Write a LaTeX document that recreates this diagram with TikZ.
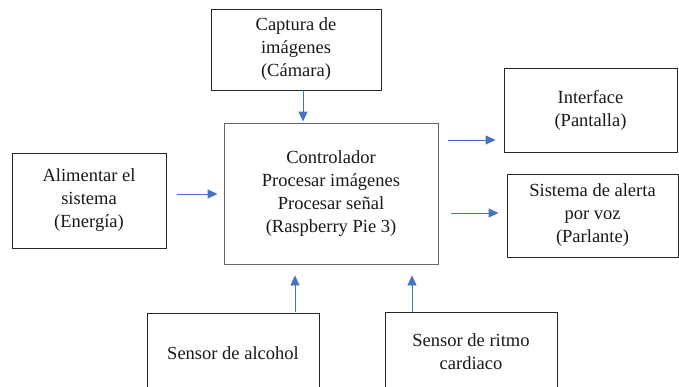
\documentclass[tikz,border=0pt]{standalone}
\usepackage{fontspec}
\setmainfont{Liberation Serif}
\usetikzlibrary{arrows.meta,calc}
\definecolor{arrblue}{HTML}{4472C4}
\tikzset{
  box/.style={draw=black!85, line width=0.9pt, fill=white, align=center, inner sep=0pt,
    font=\fontsize{18.5}{23}\selectfont, text=black!90},
  arr/.style={draw=arrblue, line width=0.9pt, -{Triangle[length=10pt,width=9pt]}}
}
\begin{document}
\begin{tikzpicture}[x=1pt,y=-1pt]
\useasboundingbox (0,0) rectangle (679,386);
\node[box, minimum width=170pt, minimum height=81pt] (cap) at (296,49.5) {Captura de\\imágenes\\(Cámara)};
\node[box, draw=black!60, minimum width=214pt, minimum height=141pt] (ctrl) at (331,193.5) {Controlador\\Procesar imágenes\\Procesar señal\\(Raspberry Pie 3)};
\node[box, minimum width=173pt, minimum height=84pt] (intf) at (590.5,110) {Interface\\(Pantalla)};
\node[box, minimum width=171pt, minimum height=83pt] (alert) at (592.5,215.5) {Sistema de alerta\\por voz\\(Parlante)};
\node[box, minimum width=154pt, minimum height=95pt] (alim) at (89,200.5) {Alimentar el\\sistema\\(Energía)};
\node[box, minimum width=172pt, minimum height=80pt] (alc) at (233,353) {Sensor de alcohol};
\node[box, minimum width=172pt, minimum height=80pt] (ritmo) at (471,352) {Sensor de ritmo\\cardiaco};
% connectors
\draw[arr] ($(cap.south)+(7,0)$) -- ($(ctrl.north)+(-28,-1)$);
\draw[arr] ($(alim.east)+(11,-6.5)$) -- ($(ctrl.west)+(-6,0.5)$);
\draw[arr] ($(ctrl.east)+(10,-53.5)$) -- ($(intf.west)+(-8,30)$);
\draw[arr] ($(ctrl.east)+(13,19.5)$) -- ($(alert.west)+(-8,-2.5)$);
\draw[arr] ($(alc.north)+(62,-1)$) -- ($(ctrl.south)+(-36,11)$);
\draw[arr] ($(ritmo.north)+(-59,0)$) -- ($(ctrl.south)+(81,11)$);
\end{tikzpicture}
\end{document}
